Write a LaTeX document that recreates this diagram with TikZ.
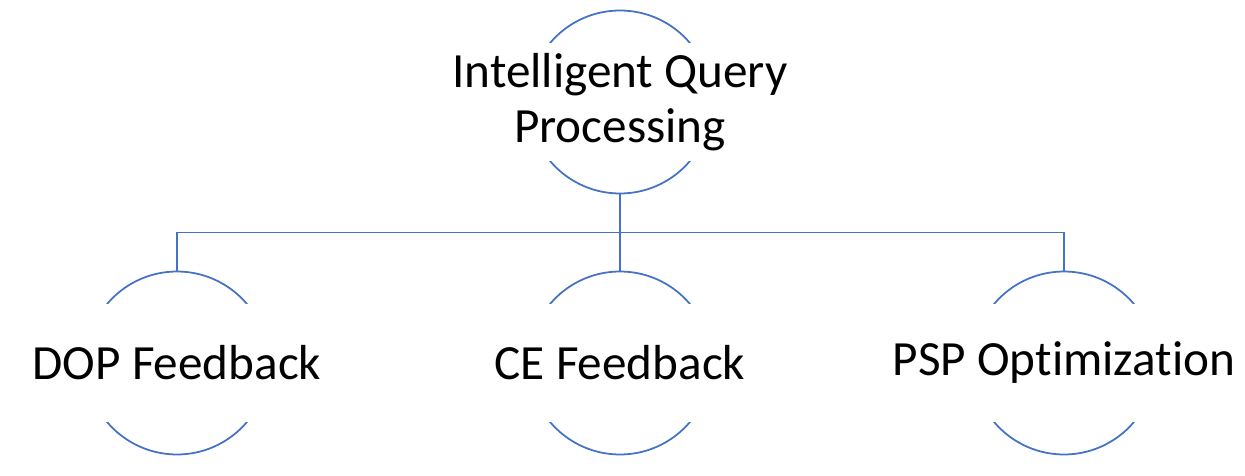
\documentclass[tikz,border=0pt]{standalone}
\usepackage{fontspec}
\setmainfont{Carlito}[Ligatures=NoCommon]
\definecolor{smartblue}{HTML}{4472C4}
\tikzset{
  bubble/.style={circle, draw=smartblue, line width=1pt, minimum size=3.66cm, inner sep=0pt},
  caption/.style={fill=white, minimum width=3.9cm, minimum height=2.38cm, inner sep=0pt, align=center,
    font=\fontsize{28}{31.5}\selectfont},
  link/.style={draw=smartblue, line width=1pt}
}
\begin{document}
\begin{tikzpicture}[x=0.02cm,y=-0.02cm]
\useasboundingbox (0,0) rectangle (1245,476);
\node[bubble] (iqp) at (620,102) {};
\node[caption] (iqp-t) at (iqp) {Intelligent Query\\Processing};
\node[bubble] (dop) at (177,363) {};
\node[caption] (dop-t) at (dop) {DOP Feedback};
\node[bubble] (ce) at (620,363) {};
\node[caption] (ce-t) at (ce) {CE Feedback};
\node[bubble] (psp) at (1064,363) {};
\node[caption] (psp-t) at (psp) {PSP Optimization};
\coordinate (bus) at (620,232.5);
\draw[link] (iqp.south) -- (bus);
\draw[link] (dop.north) |- (bus) -| (psp.north);
\draw[link] (ce.north) -- (bus);
\end{tikzpicture}
\end{document}
